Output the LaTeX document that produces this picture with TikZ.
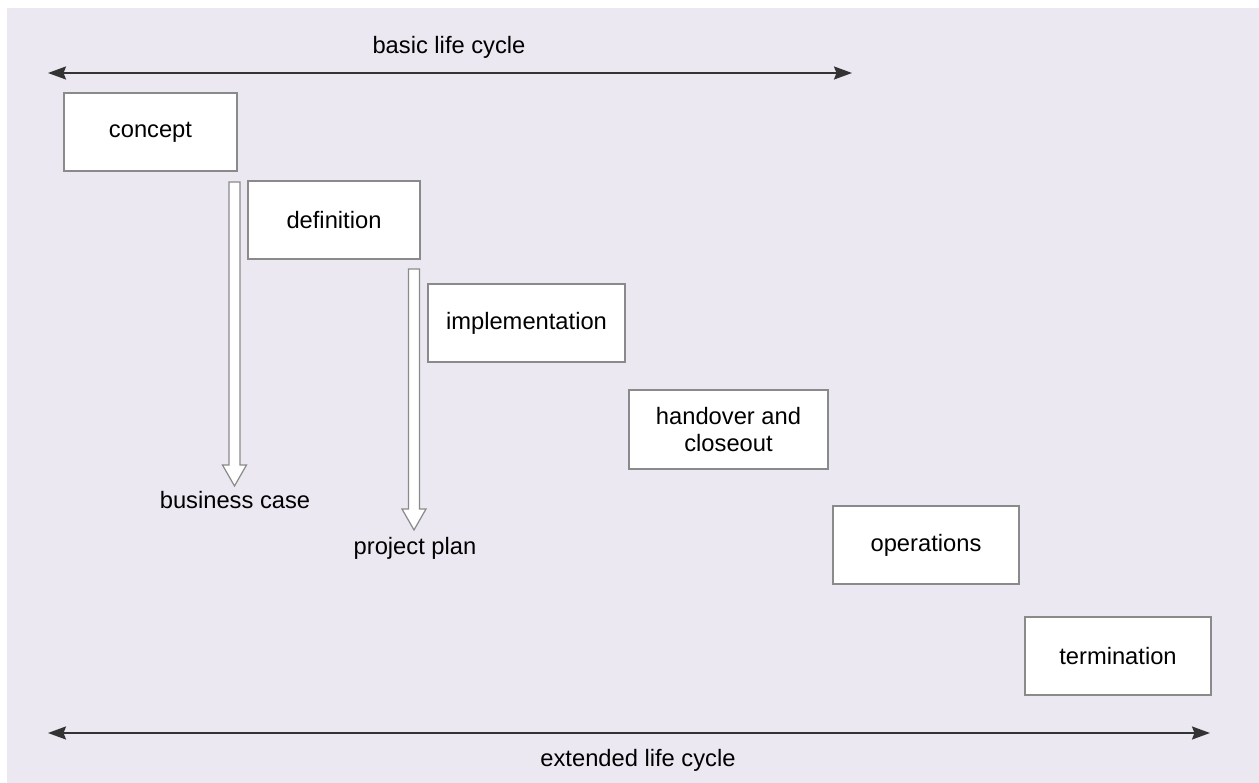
\documentclass[tikz,border=0pt]{standalone}
\usepackage{fontspec}
\setmainfont{Liberation Sans}
\usetikzlibrary{arrows.meta,calc}
\definecolor{bgc}{HTML}{EBE8F2}
\definecolor{boxline}{HTML}{8A8A8A}
\definecolor{arrline}{HTML}{333333}
\tikzset{
  stage/.style={draw=boxline, fill=white, line width=0.9pt, inner sep=0pt, align=center,
    font=\fontsize{13.5}{15.5}\selectfont, minimum height=1.56cm},
  lbl/.style={inner sep=0pt, font=\fontsize{13.5}{15.5}\selectfont},
  span/.style={draw=arrline, line width=1.1pt, {Stealth[length=0.36cm,width=0.26cm,inset=0.05cm]}-{Stealth[length=0.36cm,width=0.26cm,inset=0.05cm]}},
  hollow/.style={draw=boxline, fill=white, line width=0.7pt, line join=miter}
}
\begin{document}
\begin{tikzpicture}[x=0.02cm,y=-0.02cm]
\useasboundingbox (0,0) rectangle (1259,783);
\fill[bgc] (7,8) rectangle (1259,783);

% stages
\node[stage, minimum width=3.46cm] (concept) at (150.5,132) {concept};
\node[stage, minimum width=3.44cm] (definition) at (334,220) {definition};
\node[stage, minimum width=3.94cm] (impl) at (526.5,323) {implementation};
\node[stage, minimum width=3.98cm, minimum height=1.58cm] (handover) at (728.5,429.5) {handover and\\closeout};
\node[stage, minimum width=3.72cm] (ops) at (926,545) {operations};
\node[stage, minimum width=3.72cm] (term) at (1118,656) {termination};

% life cycle spans
\coordinate (bl) at (48,73);
\coordinate (br) at (852,73);
\draw[span] (bl) -- (br);
\node[lbl] (basic) at (449,47) {basic life cycle};

\coordinate (el) at (48,733);
\coordinate (er) at (1210,733);
\draw[span] (el) -- (er);
\node[lbl] (ext) at (638,760) {extended life cycle};

% deliverables
\node[lbl] (bcase) at (235,500) {business case};
\node[lbl] (pplan) at (415,548) {project plan};

\coordinate (s1) at (234.5,182);
\coordinate (e1) at (234.5,486);
\draw[hollow] ($(s1)+(-5.5,0)$) -- ($(e1)+(-5.5,-21)$) -- ($(e1)+(-12,-21)$) -- (e1)
  -- ($(e1)+(12,-21)$) -- ($(e1)+(5.5,-21)$) -- ($(s1)+(5.5,0)$) -- cycle;

\coordinate (s2) at (414,269);
\coordinate (e2) at (414,530);
\draw[hollow] ($(s2)+(-5.5,0)$) -- ($(e2)+(-5.5,-21)$) -- ($(e2)+(-12,-21)$) -- (e2)
  -- ($(e2)+(12,-21)$) -- ($(e2)+(5.5,-21)$) -- ($(s2)+(5.5,0)$) -- cycle;
\end{tikzpicture}
\end{document}
